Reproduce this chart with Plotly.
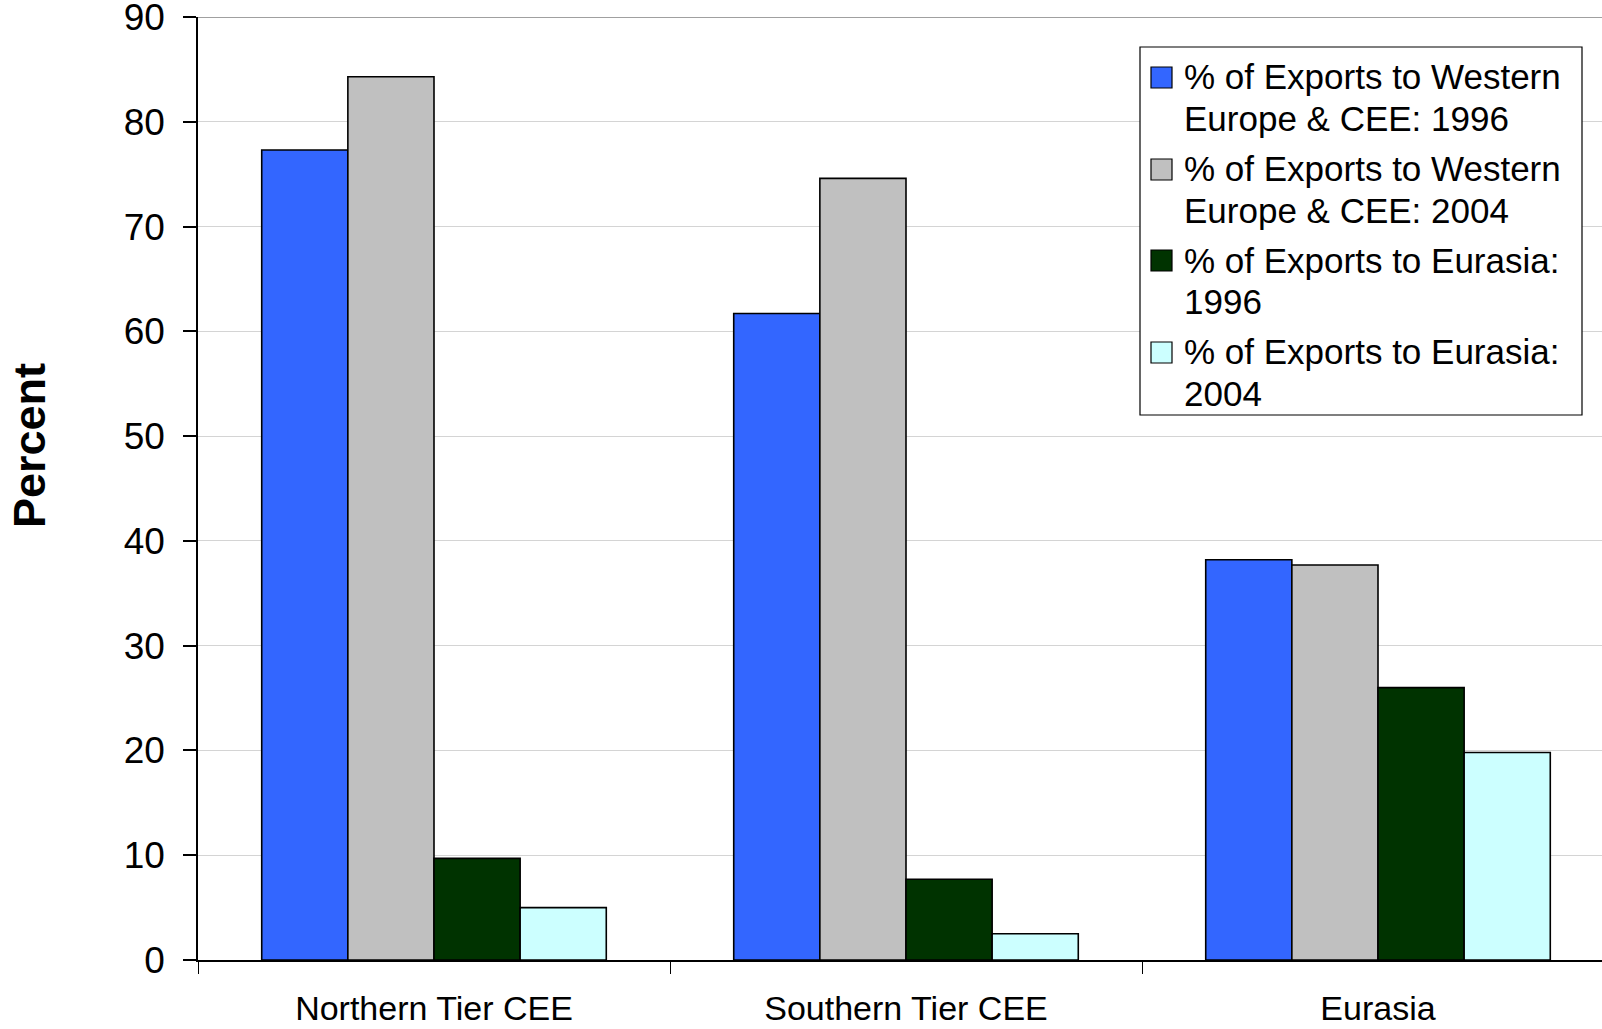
import plotly.graph_objects as go

# Export shares by region group (percent)
categories = ["Northern Tier CEE", "Southern Tier CEE", "Eurasia"]
series_names = [
    ["% of Exports to Western", "Europe & CEE: 1996"],
    ["% of Exports to Western", "Europe & CEE: 2004"],
    ["% of Exports to Eurasia:", "1996"],
    ["% of Exports to Eurasia:", "2004"],
]
we_cee_1996 = [77.3, 61.7, 38.2]
we_cee_2004 = [84.3, 74.6, 37.7]
eurasia_1996 = [9.7, 7.7, 26.0]
eurasia_2004 = [5.0, 2.5, 19.8]
y_ticks = [0, 10, 20, 30, 40, 50, 60, 70, 80, 90]

colors = ["#3366FF", "#C0C0C0", "#003300", "#CCFFFF"]
FONT = "Liberation Sans, Arial, sans-serif"

W, H = 1602, 1029
ML, MT, MB, MR = 198, 17, 69, 0
PW, PH = W - ML - MR, H - MT - MB
CAT_PX = 472  # width of one category band in pixels


def px_x(px):
    return (px - ML) / PW


def px_y(py):
    return (H - MB - py) / PH


fig = go.Figure()
for vals, name, col in zip(
    [we_cee_1996, we_cee_2004, eurasia_1996, eurasia_2004],
    series_names, colors,
):
    fig.add_trace(go.Bar(
        x=categories, y=vals, name=" ".join(name),
        marker=dict(color=col, line=dict(color="#000000", width=1.6)),
        showlegend=False,
    ))

fig.update_layout(
    width=W, height=H,
    margin=dict(l=ML, r=MR, t=MT, b=MB, autoexpand=False),
    paper_bgcolor="white", plot_bgcolor="white",
    barmode="group", bargap=0.27, bargroupgap=0,
    font=dict(family=FONT, color="#000000"),
)

fig.update_xaxes(
    type="category",
    range=[-0.5, -0.5 + PW / CAT_PX],
    tickson="boundaries",
    ticks="outside", ticklen=12, tickwidth=1, tickcolor="#000000",
    showline=True, linecolor="#000000", linewidth=1.5,
    tickfont=dict(size=34, family=FONT, color="#000000"),
    ticklabelstandoff=17,
    ticklabeloverflow="allow",
    automargin=False,
    showgrid=False, zeroline=False,
)
fig.update_yaxes(
    range=[0, 90],
    tickvals=y_ticks,
    ticks="outside", ticklen=13, tickwidth=1.5, tickcolor="#000000",
    showline=True, linecolor="#000000", linewidth=1.5,
    tickfont=dict(size=37, family=FONT, color="#000000"),
    ticklabelstandoff=11,
    ticklabeloverflow="allow",
    automargin=False,
    showgrid=True, gridcolor="#D4D4D4", gridwidth=1.2,
    zeroline=False,
)

# darker border along the top of the plot area
fig.add_shape(type="line", xref="paper", yref="y",
              x0=0, x1=1, y0=90, y1=90,
              line=dict(color="#808080", width=1.5))

# axis title
fig.add_annotation(
    xref="paper", yref="paper", x=px_x(29), y=px_y(446),
    text="<b>Percent</b>", textangle=-90, showarrow=False,
    xanchor="center", yanchor="middle",
    font=dict(size=45, family=FONT, color="#000000"),
)

# legend box with swatches and two-line labels
fig.add_shape(type="rect", xref="paper", yref="paper",
              x0=px_x(1140), x1=px_x(1582), y0=px_y(47), y1=px_y(415),
              line=dict(color="#000000", width=1.2), fillcolor="white",
              layer="above")
sw_tops = [67, 159, 250, 342]
baselines = [(89, 131), (181, 223), (273, 314), (364, 406)]
LEG_FS = 35
for i, (name, col) in enumerate(zip(series_names, colors)):
    t = sw_tops[i]
    fig.add_shape(type="rect", xref="paper", yref="paper",
                  x0=px_x(1151), x1=px_x(1172), y0=px_y(t), y1=px_y(t + 21),
                  line=dict(color="#000000", width=1.2), fillcolor=col,
                  layer="above")
    for line_txt, base in zip(name, baselines[i]):
        fig.add_annotation(
            xref="paper", yref="paper",
            x=px_x(1182), y=px_y(base - 0.35 * LEG_FS),
            text=line_txt, showarrow=False,
            xanchor="left", yanchor="middle",
            font=dict(size=LEG_FS, family=FONT, color="#000000"),
        )

fig.write_html("out.html")
